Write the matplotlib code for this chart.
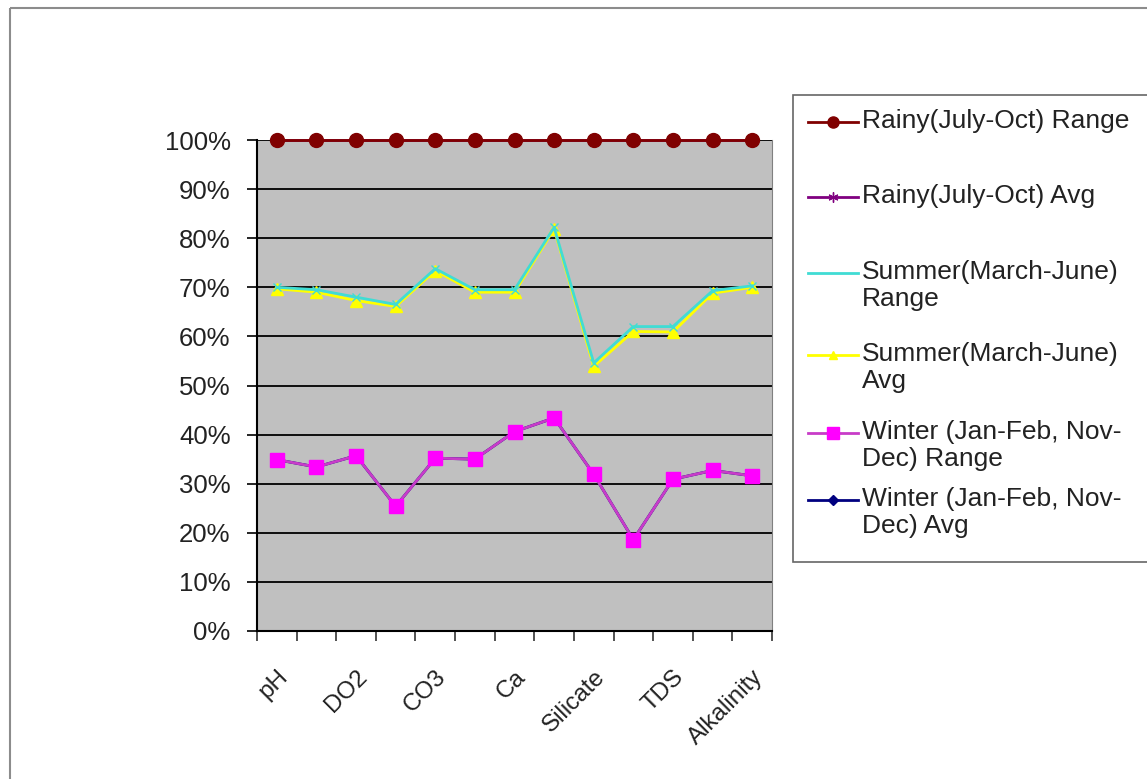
import numpy as np
import matplotlib.pyplot as plt
from matplotlib.patches import Rectangle
from matplotlib.ticker import PercentFormatter

plt.rcParams['font.family'] = ['Liberation Sans', 'DejaVu Sans']

# categories (only every other one is labelled on the axis)
categories = ['pH', '', 'DO2', '', 'CO3', '', 'Ca', '', 'Silicate', '', 'TDS', '', 'Alkalinity']

rainy_range = [100, 100, 100, 100, 100, 100, 100, 100, 100, 100, 100, 100, 100]
rainy_avg = [100, 100, 100, 100, 100, 100, 100, 100, 100, 100, 100, 100, 100]
summer_range = [70.0, 69.5, 68.0, 66.5, 73.8, 69.5, 69.5, 82.2, 54.6, 62.0, 62.0, 69.3, 70.3]
summer_avg = [69.7, 69.0, 67.3, 66.1, 73.4, 69.0, 69.0, 81.9, 53.9, 61.0, 60.9, 68.8, 70.0]
winter_range = [34.9, 33.4, 35.7, 25.4, 35.2, 35.0, 40.6, 43.4, 31.9, 18.6, 30.9, 32.7, 31.6]
winter_avg = [34.9, 33.4, 35.7, 25.4, 35.2, 35.0, 40.6, 43.4, 31.9, 18.6, 30.9, 32.7, 31.6]

labels = ['Rainy(July-Oct) Range', 'Rainy(July-Oct) Avg', 'Summer(March-June)\nRange',
          'Summer(March-June)\nAvg', 'Winter (Jan-Feb, Nov-\nDec) Range', 'Winter (Jan-Feb, Nov-\nDec) Avg']

# style per series: line colour, marker, marker size, marker colour
styles = [
    ('#800000', 'o', 10, '#800000'),
    ('#800080', (6, 2, 0), 9, '#800080'),
    ('#40dcd4', 'x', 6, '#40dcd4'),
    ('#ffff00', '^', 8, '#ffff00'),
    ('#c83cc8', 's', 10, '#ff00ff'),
    ('#000080', 'D', 6, '#000080'),
]
series = [rainy_range, rainy_avg, summer_range, summer_avg, winter_range, winter_avg]
zorders = [6, 2, 4, 3, 5, 2]

x = np.arange(len(categories))

fig = plt.figure(figsize=(11.47, 7.79), dpi=100)

ax = fig.add_axes([257 / 1147, 1 - 631 / 779, 515 / 1147, 491 / 779])
ax.set_facecolor('#c0c0c0')

for vals, (lc, mk, ms, mc), z in zip(series, styles, zorders):
    ax.plot(x, vals, color=lc, marker=mk, markersize=ms, markerfacecolor=mc,
            markeredgecolor=mc, lw=2, zorder=z, clip_on=False)

ax.set_xlim(-0.5, len(categories) - 0.5)
ax.set_ylim(0, 100)
ax.set_yticks(np.arange(0, 101, 10))
ax.yaxis.set_major_formatter(PercentFormatter(decimals=0))
ax.yaxis.grid(True, color='black', linewidth=1.3)
ax.set_axisbelow(True)

ax.set_xticks(np.arange(-0.5, len(categories), 1))
ax.set_xticklabels([])
lab_pos = [i for i, c in enumerate(categories) if c]
ax.set_xticks(lab_pos, minor=True)
ax.set_xticklabels([categories[i] for i in lab_pos], minor=True, rotation=45,
                   ha='right', va='top', rotation_mode='anchor', fontsize=17.5,
                   color='#222222')
ax.tick_params(axis='x', which='minor', length=0, pad=25)
ax.tick_params(axis='x', which='major', length=7, width=1.2, color='#333333')
ax.tick_params(axis='y', length=7, width=1.2, labelsize=18.5, pad=12, labelcolor='#222222')

ax.spines['top'].set_visible(False)
ax.spines['right'].set_color('#808080')
ax.spines['left'].set_linewidth(1.5)
ax.spines['bottom'].set_linewidth(1.5)

# overlay in pixel coordinates for the outer border and the legend box
ov = fig.add_axes([0, 0, 1, 1], zorder=10)
ov.set_xlim(0, 1147)
ov.set_ylim(779, 0)
ov.axis('off')
ov.patch.set_alpha(0)
ov.add_patch(Rectangle((10, 8), 1150, 790, fill=False, edgecolor='#8c8c8c', lw=1.5))
ov.add_patch(Rectangle((793, 95), 370, 467, facecolor='white', edgecolor='#666666', lw=1.2))

leg_y = [122, 197, 273, 355, 433, 500]
for lab, (lc, mk, ms, mc), yy in zip(labels, styles, leg_y):
    ov.plot([808, 858], [yy, yy], color=lc, lw=2)
    if mk != 'x':
        ov.plot([833], [yy], marker=mk, markersize=ms * 0.8, color=mc, markeredgecolor=mc)
    ov.text(862, yy - 13, lab, fontsize=19, va='top', ha='left', color='#222222',
            linespacing=1.15)

fig.savefig('out.png', dpi=100)
